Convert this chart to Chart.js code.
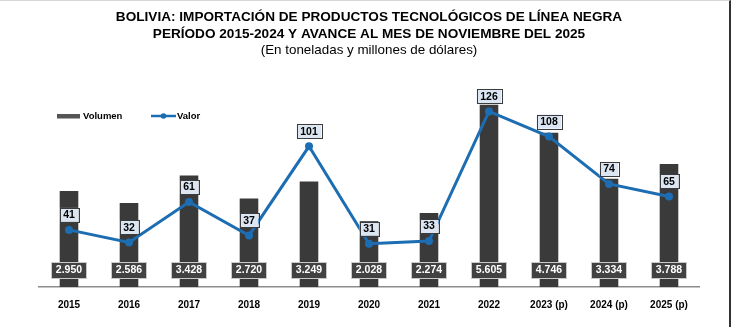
<!DOCTYPE html>
<html>
<head>
<meta charset="utf-8">
<script src="https://cdn.jsdelivr.net/npm/chart.js@4.4.1/dist/chart.umd.min.js"></script>
<style>
  html, body { margin: 0; padding: 0; background: #fff; }
  #wrap { position: relative; width: 735px; height: 327px; }
  #frame { position: absolute; left: 0; top: 0; width: 731px; height: 327px;
           border-top: 1px solid #d8d8d8; border-right: 2px solid #333; box-sizing: border-box; pointer-events: none; }
</style>
</head>
<body>
<div id="wrap">
  <canvas id="chart" width="735" height="327"></canvas>
  <div id="frame"></div>
</div>
<script>
// Years shown on the x axis, (p) = preliminary
const years = ["2015", "2016", "2017", "2018", "2019", "2020", "2021", "2022", "2023 (p)", "2024 (p)", "2025 (p)"];
// Volume in tonnes
const volumen = [2950, 2586, 3428, 2720, 3249, 2028, 2274, 5605, 4746, 3334, 3788];
// Value in millions of dollars
const valor = [41, 32, 61, 37, 101, 31, 33, 126, 108, 74, 65];

const barColor = "#3a3a3a";
const lineColor = "#1c6db2";

// thousands with a dot, like the source
function fmt(n) {
    return n.toString().replace(/\B(?=(\d{3})+(?!\d))/g, ".");
}

function box(ctx, x, y, w, h, fill, stroke) {
    ctx.fillStyle = fill;
    ctx.fillRect(x - w / 2, y - h / 2, w, h);
    ctx.lineWidth = 1;
    ctx.strokeStyle = stroke;
    ctx.strokeRect(Math.round(x - w / 2) + 0.5, Math.round(y - h / 2) + 0.5, Math.round(w), Math.round(h));
}

// Draw the boxed value labels and the legend
const labelsPlugin = {
    id: "boxLabels",
    afterDatasetsDraw(chart) {
        const ctx = chart.ctx;
        const area = chart.chartArea;
        ctx.save();
        ctx.font = "bold 10.5px 'Liberation Sans', Arial, sans-serif";
        ctx.textAlign = "center";
        ctx.textBaseline = "middle";

        // volume labels near the foot of each bar
        chart.getDatasetMeta(0).data.forEach((bar, i) => {
            const t = fmt(volumen[i]);
            const w = ctx.measureText(t).width + 9;
            const y = area.bottom - 17;
            box(ctx, bar.x, y, w, 16, "#424242", "#c9c9c9");
            ctx.fillStyle = "#ffffff";
            ctx.fillText(t, bar.x, y + 0.5);
        });

        // value labels above each point
        chart.getDatasetMeta(1).data.forEach((pt, i) => {
            const t = String(valor[i]);
            const w = ctx.measureText(t).width + 7;
            const y = pt.y - 15;
            box(ctx, pt.x, y, w, 14, "#dce6f2", "#3c3c3c");
            ctx.fillStyle = "#000000";
            ctx.fillText(t, pt.x, y + 0.5);
        });

        // legend
        ctx.textAlign = "left";
        ctx.font = "bold 9.5px 'Liberation Sans', Arial, sans-serif";
        ctx.fillStyle = "#555555";
        ctx.fillRect(57, 114, 23, 4.5);
        ctx.fillStyle = "#000";
        ctx.fillText(chart.data.datasets[0].label, 83, 116.5);
        ctx.strokeStyle = lineColor;
        ctx.lineWidth = 2.5;
        ctx.beginPath();
        ctx.moveTo(151, 116);
        ctx.lineTo(176, 116);
        ctx.stroke();
        ctx.fillStyle = lineColor;
        ctx.beginPath();
        ctx.arc(163.5, 116, 2.8, 0, Math.PI * 2);
        ctx.fill();
        ctx.fillStyle = "#000";
        ctx.fillText(chart.data.datasets[1].label, 177, 116.5);
        ctx.restore();
    }
};

const ctx = document.getElementById("chart").getContext("2d");
new Chart(ctx, {
    type: "bar",
    data: {
        labels: years,
        datasets: [
            {
                label: "Volumen",
                data: volumen,
                backgroundColor: barColor,
                yAxisID: "y",
                barPercentage: 0.31,
                categoryPercentage: 1,
                order: 2
            },
            {
                type: "line",
                label: "Valor",
                data: valor,
                borderColor: lineColor,
                backgroundColor: lineColor,
                borderWidth: 3,
                pointRadius: 4,
                pointBackgroundColor: lineColor,
                pointBorderWidth: 0,
                yAxisID: "y2",
                order: 1
            }
        ]
    },
    options: {
        responsive: false,
        animation: false,
        layout: {
            padding: { left: 39, right: 36, top: 0, bottom: 12 }
        },
        scales: {
            x: {
                grid: { display: false },
                border: { display: true, color: "#8c8c8c", width: 1.5 },
                ticks: {
                    color: "#000",
                    padding: 4,
                    font: { family: "'Liberation Sans', Arial, sans-serif", size: 10, weight: "bold" }
                }
            },
            y: {
                display: false,
                min: 0,
                max: 6000
            },
            y2: {
                display: false,
                min: 0,
                max: 140
            }
        },
        plugins: {
            legend: { display: false },
            tooltip: { enabled: false },
            title: {
                display: true,
                text: ["BOLIVIA: IMPORTACIÓN DE PRODUCTOS TECNOLÓGICOS DE LÍNEA NEGRA",
                       "PERÍODO 2015-2024 Y AVANCE AL MES DE NOVIEMBRE DEL 2025"],
                color: "#000",
                padding: { top: 8.5, bottom: 0 },
                font: { family: "'Liberation Sans', Arial, sans-serif", size: 13.6, weight: "bold", lineHeight: 1.25 }
            },
            subtitle: {
                display: true,
                text: "(En toneladas y millones de dólares)",
                color: "#000",
                padding: { top: 0, bottom: 33.4 },
                font: { family: "'Liberation Sans', Arial, sans-serif", size: 13.4, lineHeight: 1.2 }
            }
        }
    },
    plugins: [labelsPlugin]
});
</script>
</body>
</html>
